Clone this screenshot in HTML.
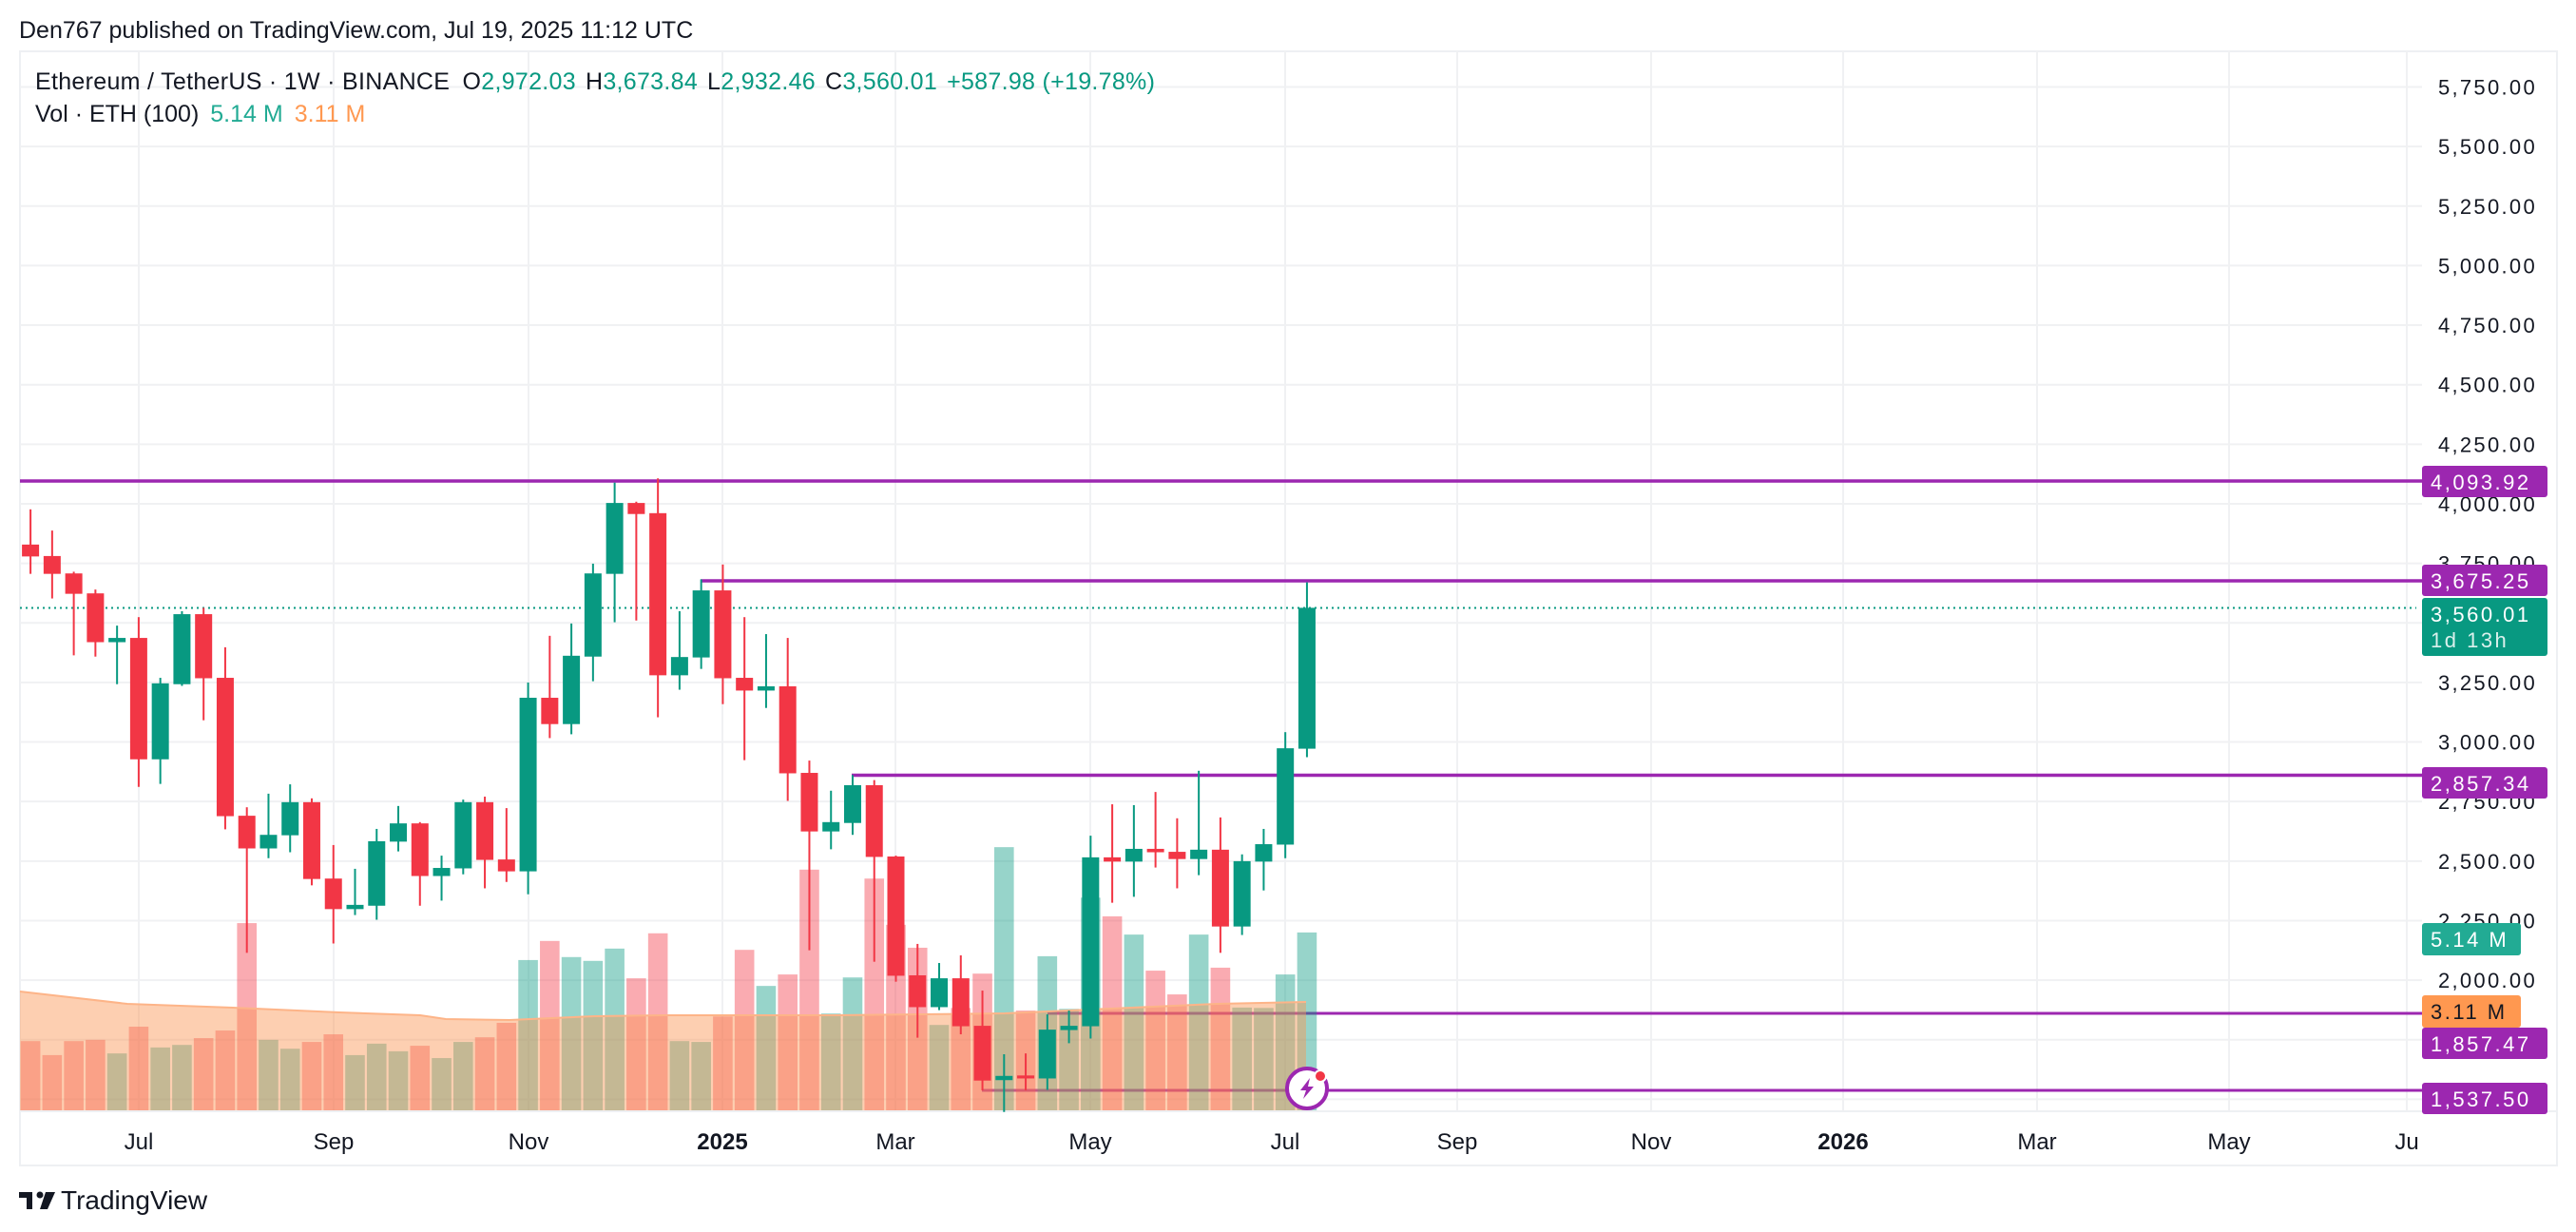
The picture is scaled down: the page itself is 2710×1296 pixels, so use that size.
<!DOCTYPE html>
<html><head><meta charset="utf-8"><style>
html,body{margin:0;padding:0;background:#fff;}
svg{display:block;font-family:"Liberation Sans",sans-serif;}
</style></head><body>
<svg id="s" width="2710" height="1296" viewBox="0 0 2710 1296" xmlns="http://www.w3.org/2000/svg">
<rect width="2710" height="1296" fill="#fff"/>
<text x="20" y="40" font-size="25" fill="#131722">Den767 published on TradingView.com, Jul 19, 2025 11:12 UTC</text>
<rect x="21" y="54" width="2669" height="1172" fill="none" stroke="#eef0f3" stroke-width="2"/>
<g id="grid"></g>
<g id="under"></g>
<g id="vol"></g>
<g id="area"></g>
<g id="lines"></g>
<g id="candles"></g>
<g id="axis"></g>
<g id="tags"></g>
<text x="37" y="94" font-size="25" fill="#131722" letter-spacing="0.3">Ethereum / TetherUS · 1W · BINANCE <tspan dx="6">O</tspan><tspan fill="#089981">2,972.03</tspan><tspan dx="10">H</tspan><tspan fill="#089981">3,673.84</tspan><tspan dx="10">L</tspan><tspan fill="#089981">2,932.46</tspan><tspan dx="10">C</tspan><tspan fill="#089981">3,560.01</tspan><tspan dx="10" fill="#089981">+587.98 (+19.78%)</tspan></text>
<text x="37" y="128" font-size="25" fill="#131722">Vol · ETH (100)<tspan dx="12" fill="#22ab94">5.14 M</tspan><tspan dx="12" fill="#ff9850">3.11 M</tspan></text>
<g id="time" font-size="24" fill="#131722" text-anchor="middle"></g>
<g transform="translate(20,1252)"><rect x="0" y="2" width="14" height="6" fill="#131722"/><rect x="8" y="2" width="6" height="18" fill="#131722"/><circle cx="22" cy="5" r="3.5" fill="#131722"/><polygon points="28,2 38,2 30,20 22,20" fill="#131722"/></g>
<text x="64" y="1272" font-size="28" fill="#131722">TradingView</text>
<g transform="translate(1375,1145)"><circle r="21" fill="#fff" stroke="#9c27b0" stroke-width="4"/><polygon points="3,-11 -7,2 -1,2 -4,11 7,-2 1,-2" fill="#9c27b0"/><circle cx="14" cy="-13" r="6" fill="#f23645" stroke="#fff" stroke-width="2"/></g>
</svg>
<script>
const NS="http://www.w3.org/2000/svg";
function add(g,tag,attrs,txt){const e=document.createElementNS(NS,tag);for(const k in attrs)e.setAttribute(k,attrs[k]);if(txt!==undefined)e.textContent=txt;document.getElementById(g).appendChild(e);return e;}
const Y=p=>91.5+(5750-p)*0.25056;
const Z=z=>480+z/2.24;
for(let p=5750;p>=1500;p-=250){add('grid','line',{x1:21,x2:2548,y1:Y(p),y2:Y(p),stroke:'#f0f1f3','stroke-width':2});}
const tx=[[146,'Jul'],[351,'Sep'],[556,'Nov'],[760,'2025'],[942,'Mar'],[1147,'May'],[1352,'Jul'],[1533,'Sep'],[1737,'Nov'],[1939,'2026'],[2143,'Mar'],[2345,'May'],[2532,'Ju']];
tx.forEach(([x,t])=>{add('grid','line',{x1:x,x2:x,y1:54,y2:1169,stroke:'#f0f1f3','stroke-width':2});const e=add('time','text',{x:x,y:1209},t);if(t.length==4)e.setAttribute('font-weight','bold');});
add('grid','line',{x1:21,x2:2690,y1:1169,y2:1169,stroke:'#eef0f3','stroke-width':2});
add('under','line',{x1:1102,x2:2548,y1:1066,y2:1066,stroke:'#9c27b0','stroke-width':3});
add('under','line',{x1:1033,x2:2548,y1:1147,y2:1147,stroke:'#9c27b0','stroke-width':3});
const C=[[125,208,236,277,'R'],[175,235,277,335,'R'],[272,276,324,469,'R'],[314,323,438,472,'R'],[399,428,438,537,'G'],[379,428,714,779,'R'],[522,535,714,772,'G'],[365,372,537,541,'G'],[357,372,523,622,'R'],[450,522,848,879,'R'],
[827,847,924,1170,'R'],[795,892,924,947,'G'],[773,815,893,933,'G'],[806,815,996,1011,'R'],[916,995,1067,1148,'R'],[972,1057,1067,1081,'G'],[878,907,1059,1092,'G'],[824,865,908,931,'G'],[862,865,989,1059,'R'],[941,970,989,1047,'G'],
[809,815,971,985,'G'],[802,815,951,1018,'R'],[829,950,978,1003,'R'],[533,569,978,1032,'G'],[423,569,631,664,'R'],[394,470,631,655,'G'],[253,276,472,530,'G'],[62,110,277,391,'G'],[107,110,136,387,'R'],[52,134,516,615,'R'],
[365,473,516,550,'G'],[290,316,474,501,'G'],[255,316,523,584,'R'],[379,522,552,716,'R'],[419,542,552,593,'G'],[428,542,747,812,'R'],[717,746,884,1164,'R'],[788,862,884,926,'G'],[751,775,864,892,'G'],[763,775,944,1191,'R'],
[941,943,1224,1238,'R'],[1149,1223,1298,1370,'R'],[1194,1230,1298,1305,'G'],[1176,1230,1343,1362,'R'],[1259,1342,1471,1494,'R'],[1409,1460,1470,1545,'G'],[1407,1459,1466,1494,'R'],[1315,1351,1466,1493,'G'],[1306,1342,1352,1383,'G'],[894,945,1343,1372,'G'],
[820,945,955,1052,'R'],[822,925,955,1038,'G'],[791,925,933,969,'R'],[853,932,949,1018,'R'],[741,927,949,987,'G'],[851,927,1108,1170,'R'],[938,954,1108,1128,'G'],[878,914,955,1023,'G'],[650,688,915,947,'G'],[297,357,689,709,'G']];
const V=[1378,1411,1378,1375,1407,1344,1393,1387,1371,1353,1100,1375,1396,1380,1362,1411,1384,1402,1389,1418,1380,1369,1335,1187,1142,1180,1189,1160,1230,1124,
1378,1380,1320,1163,1248,1221,974,1313,1228,995,1104,1158,1340,1300,1219,921,1306,1178,1302,1040,1084,1127,1212,1268,1127,1205,1299,1300,1221,1122];
const X=i=>32.1+i*22.76;
C.forEach((c,i)=>{const x=X(i);const col=c[4]=='G'?'#089981':'#f23645';
 const vt=Z(V[i]);add('vol','rect',{x:x-10.3,y:vt,width:20.6,height:1168-vt,fill:col,'fill-opacity':0.42});
 add('candles','rect',{x:x-1,y:Z(c[0]),width:2,height:Z(c[3])-Z(c[0]),fill:col});
 const bt=Z(c[1]),bb=Z(c[2]);add('candles','rect',{x:x-9,y:bt,width:18,height:Math.max(2.5,bb-bt),fill:col});
});
const ma=[[21,1043],[134,1056],[245,1060],[357,1065],[442,1068],[469,1072],[536,1073],[625,1069],[700,1068],[879,1068],[1057,1066],[1191,1060],[1280,1056],[1374,1054]];
let d='M21,1168 '+ma.map(p=>'L'+p[0]+','+p[1]).join(' ')+' L1374,1168 Z';
add('area','path',{d:d,fill:'rgb(250,150,85)','fill-opacity':0.46});
add('area','polyline',{points:ma.map(p=>p.join(',')).join(' '),fill:'none',stroke:'#fdb488','stroke-width':2});
add('lines','line',{x1:21,x2:2548,y1:506,y2:506,stroke:'#9c27b0','stroke-width':3.5});
add('lines','line',{x1:737,x2:2548,y1:611,y2:611,stroke:'#9c27b0','stroke-width':3.5});
add('lines','line',{x1:896,x2:2548,y1:815.5,y2:815.5,stroke:'#9c27b0','stroke-width':3.5});
add('lines','line',{x1:21,x2:2542,y1:639.5,y2:639.5,stroke:'#089981','stroke-width':2,'stroke-dasharray':'2 4'});
for(let p=5750;p>=1500;p-=250){const s=p.toLocaleString('en-US')+'.00';add('axis','text',{x:2669,y:Y(p)+8,'font-size':22,fill:'#131722','text-anchor':'end','letter-spacing':2.3},s);}
function tag(y1,y2,w,col,lines,tc){add('tags','rect',{x:2548,y:y1,width:w,height:y2-y1,rx:3,fill:col});lines.forEach((t,k)=>add('tags','text',{x:2557,y:y1+25+k*27,'font-size':22,fill:k?'rgba(255,255,255,0.85)':(tc||'#fff'),'letter-spacing':2.5},t));}
tag(490,523,132,'#9c27b0',['4,093.92']);
tag(594,627,132,'#9c27b0',['3,675.25']);
tag(629,690,132,'#089981',['3,560.01','1d 13h']);
tag(807,840,132,'#9c27b0',['2,857.34']);
tag(971,1005,104,'#22ab94',['5.14 M']);
tag(1047,1081,104,'#ff9850',['3.11 M'],'#131722');
tag(1081,1114,132,'#9c27b0',['1,857.47']);
tag(1139,1172,132,'#9c27b0',['1,537.50']);
</script>
</body></html>
